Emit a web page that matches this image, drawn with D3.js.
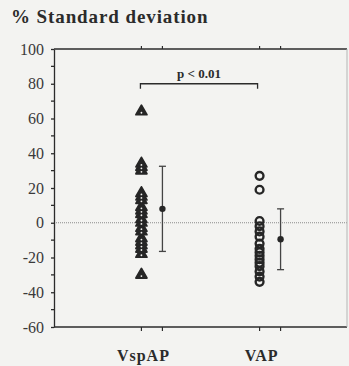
<!DOCTYPE html>
<html>
<head>
<meta charset="utf-8">
<script src="https://cdn.jsdelivr.net/npm/d3@7"></script>
<style>
body{margin:0;background:#f3f3f1;}
svg{display:block;}
</style>
</head>
<body>
<svg id="chart" width="349" height="366"></svg>
<script>
var categories = ["VspAP","VAP"];
var vspapValues = [64,34,32,30,17,15,13,9,7,5,2,0,-3,-5,-9,-11,-13,-15,-18,-30];
var vapValues = [27,19,1,-2,-5,-8,-12,-15,-17,-19,-21,-23,-25,-28,-31,-34];
var means = [8,-9.5];
var sds = [24.5,17.5];
var yTicks = [100,80,60,40,20,0,-20,-40,-60];
var minorTicks = [90,70,50,30,10,-10,-30,-50];
var pText = "p < 0.01";
var pLevel = 80;

const svg = d3.select("#chart");
var plotLeft = 54, plotRight = 347, plotTop = 49, plotBottom = 327;
var ink = "#2b2b2b";

var y = d3.scaleLinear().domain([-60,100]).range([plotBottom,plotTop]);
var x = d3.scalePoint().domain(categories).range([plotLeft,plotRight]).padding(0.74);
var meanOff = 21;

// title
svg.append("text")
	.attr("x",11).attr("y",23)
	.style("font-family","Liberation Serif").style("font-weight","bold")
	.style("font-size","19px").style("letter-spacing","0.9px").attr("fill",ink)
	.text("% Standard deviation");

// zero line
svg.append("line")
	.attr("x1",plotLeft).attr("x2",plotRight)
	.attr("y1",y(0)).attr("y2",y(0))
	.attr("stroke","#8a8a8a").attr("stroke-width",1.2)
	.attr("stroke-dasharray","1,1");

// left axis
var yAxis = d3.axisLeft(y).tickValues(yTicks).tickSize(3).tickPadding(7).tickSizeOuter(0)
	.tickFormat(function(d){return String(d);});
var gy = svg.append("g").attr("transform","translate("+plotLeft+",0)").call(yAxis);
gy.selectAll("text").style("font-family","Liberation Serif").style("font-size","16px").attr("fill","#3a3a3a");
gy.selectAll("line, path").attr("stroke",ink).attr("stroke-width",1.3);
gy.selectAll(".minor").data(minorTicks).enter().append("line")
	.attr("x1",-3).attr("x2",0)
	.attr("y1",function(d){return y(d);}).attr("y2",function(d){return y(d);})
	.attr("stroke",ink).attr("stroke-width",1.3);

// top and bottom axes with ticks at categories and means
var xTickPos = [];
categories.forEach(function(c){xTickPos.push(x(c));xTickPos.push(x(c)+meanOff);});

svg.append("line").attr("x1",plotLeft).attr("x2",plotRight).attr("y1",plotTop).attr("y2",plotTop)
	.attr("stroke",ink).attr("stroke-width",1.3);
svg.append("line").attr("x1",plotLeft).attr("x2",plotRight).attr("y1",plotBottom).attr("y2",plotBottom)
	.attr("stroke",ink).attr("stroke-width",1.3);
svg.append("line").attr("x1",plotRight).attr("x2",plotRight).attr("y1",plotTop).attr("y2",plotBottom)
	.attr("stroke","#b5b5b5").attr("stroke-width",1);

svg.selectAll(".ttick").data(xTickPos).enter().append("line")
	.attr("x1",function(d){return d;}).attr("x2",function(d){return d;})
	.attr("y1",plotTop).attr("y2",plotTop-3)
	.attr("stroke",ink).attr("stroke-width",1.2);
svg.selectAll(".btick").data(xTickPos).enter().append("line")
	.attr("x1",function(d){return d;}).attr("x2",function(d){return d;})
	.attr("y1",plotBottom).attr("y2",plotBottom+4)
	.attr("stroke",ink).attr("stroke-width",1.2);

svg.selectAll(".cat").data(categories).enter().append("text")
	.attr("x",function(d){return x(d)+2;}).attr("y",361)
	.attr("text-anchor","middle")
	.style("font-family","Liberation Serif").style("font-weight","bold")
	.style("font-size","16px").style("letter-spacing","1px").attr("fill",ink)
	.text(function(d){return d;});

// significance bracket
var bx1 = x(categories[0])-1, bx2 = x(categories[1])-2;
svg.append("path")
	.attr("d","M"+bx1+","+(y(pLevel)+5)+"V"+y(pLevel)+"H"+bx2+"V"+(y(pLevel)+5))
	.attr("fill","none").attr("stroke",ink).attr("stroke-width",1.3);
svg.append("text")
	.attr("x",(bx1+bx2)/2).attr("y",y(pLevel)-6)
	.attr("text-anchor","middle")
	.style("font-family","Liberation Serif").style("font-weight","bold")
	.style("font-size","13px").attr("fill",ink)
	.text(pText);

// triangles
var tri = d3.symbol().type(d3.symbolTriangle).size(52);
var gt = svg.append("g");
gt.selectAll("path").data(vspapValues).enter().append("path")
	.attr("d",tri)
	.attr("transform",function(d){return "translate("+x("VspAP")+","+y(d)+")";})
	.attr("fill","#262626").attr("stroke","#262626").attr("stroke-width",1.8)
	.attr("stroke-linejoin","round");
gt.selectAll("circle").data(vspapValues).enter().append("circle")
	.attr("cx",x("VspAP")).attr("cy",function(d){return y(d)+1.2;})
	.attr("r",0.9).attr("fill","#f3f3f1");

// circles
svg.append("g").selectAll("circle").data(vapValues).enter().append("circle")
	.attr("cx",x("VAP")).attr("cy",function(d){return y(d);})
	.attr("r",3.9).attr("fill","none")
	.attr("stroke","#262626").attr("stroke-width",2.4);

// mean +/- SD
var gm = svg.append("g");
categories.forEach(function(c,i){
	var cx = x(c)+meanOff;
	gm.append("line").attr("x1",cx).attr("x2",cx)
		.attr("y1",y(means[i]+sds[i])).attr("y2",y(means[i]-sds[i]))
		.attr("stroke","#444").attr("stroke-width",1.3);
	[means[i]+sds[i],means[i]-sds[i]].forEach(function(v){
		gm.append("line").attr("x1",cx-3.5).attr("x2",cx+3.5)
			.attr("y1",y(v)).attr("y2",y(v))
			.attr("stroke","#444").attr("stroke-width",1.3);
	});
	gm.append("circle").attr("cx",cx).attr("cy",y(means[i])).attr("r",3.2).attr("fill","#262626");
});
</script>
</body>
</html>
